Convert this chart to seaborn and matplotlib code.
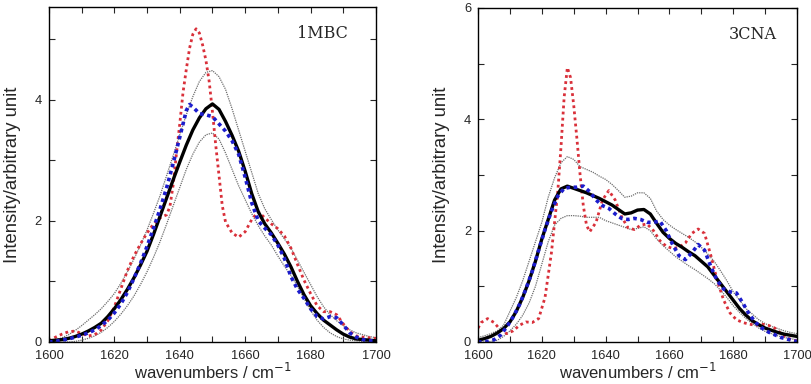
import numpy as np
import pandas as pd
import matplotlib
matplotlib.use("Agg")
import matplotlib.pyplot as plt
import seaborn as sns
from matplotlib.ticker import MultipleLocator

# ---- 1MBC (left panel) ----
x_even = list(range(1600, 1701, 2))

mbc_mean = [0.02, 0.03, 0.04, 0.06, 0.09, 0.13, 0.18, 0.24, 0.31, 0.42,
            0.55, 0.70, 0.87, 1.06, 1.27, 1.50, 1.78, 2.08, 2.38, 2.68,
            2.97, 3.25, 3.50, 3.70, 3.85, 3.93, 3.84, 3.64, 3.41, 3.15,
            2.82, 2.45, 2.15, 1.95, 1.80, 1.63, 1.45, 1.24, 1.00, 0.78,
            0.60, 0.47, 0.36, 0.28, 0.20, 0.13, 0.08, 0.05, 0.04, 0.03, 0.02]
mbc_upper = [0.02, 0.03, 0.07, 0.12, 0.19, 0.27, 0.36, 0.45, 0.55, 0.67,
             0.80, 0.97, 1.16, 1.37, 1.60, 1.85, 2.13, 2.42, 2.75, 3.08,
             3.42, 3.75, 4.05, 4.30, 4.45, 4.48, 4.38, 4.17, 3.85, 3.50,
             3.15, 2.80, 2.45, 2.20, 2.02, 1.85, 1.70, 1.55, 1.35, 1.15,
             0.95, 0.75, 0.58, 0.45, 0.35, 0.27, 0.20, 0.15, 0.12, 0.09, 0.07]
mbc_lower = [0.00, 0.00, 0.00, 0.00, 0.01, 0.03, 0.06, 0.10, 0.16, 0.24,
             0.34, 0.46, 0.60, 0.76, 0.95, 1.16, 1.40, 1.66, 1.95, 2.25,
             2.55, 2.85, 3.10, 3.30, 3.42, 3.45, 3.35, 3.12, 2.85, 2.58,
             2.35, 2.12, 1.92, 1.75, 1.60, 1.42, 1.25, 1.10, 0.92, 0.72,
             0.52, 0.36, 0.24, 0.15, 0.09, 0.05, 0.03, 0.02, 0.01, 0.00, 0.00]

mbc_blue_x = list(range(1600, 1643, 2)) + [1643] + list(range(1644, 1701, 2))
mbc_blue = [0.00, 0.01, 0.03, 0.05, 0.08, 0.11, 0.15, 0.20, 0.27, 0.36,
            0.48, 0.63, 0.82, 1.05, 1.30, 1.58, 1.88, 2.20, 2.55, 2.95,
            3.38, 3.82, 3.92,
            3.88, 3.77, 3.75, 3.72, 3.60, 3.48, 3.32, 3.10,
            2.72, 2.30, 2.00, 1.88, 1.77, 1.60, 1.38, 1.08, 0.87, 0.72,
            0.55, 0.42, 0.38, 0.42, 0.40, 0.28, 0.15, 0.08, 0.04, 0.02, 0.02]

mbc_red_x = list(range(1600, 1637, 2)) + list(range(1637, 1655)) + list(range(1656, 1701, 2))
mbc_red = [0.02, 0.08, 0.13, 0.17, 0.18, 0.14, 0.10, 0.12, 0.20, 0.35,
           0.58, 0.88, 1.18, 1.42, 1.62, 1.80, 1.95, 2.05, 2.10,
           2.24, 2.60, 3.12, 3.60, 4.12, 4.50, 4.85, 5.08, 5.17, 5.10,
           4.90, 4.65, 4.30, 3.80, 3.25, 2.75, 2.25, 1.98,
           1.80, 1.73, 1.82, 2.02, 2.15, 2.05, 1.95, 1.87, 1.75, 1.55,
           1.28, 1.02, 0.80, 0.60, 0.50, 0.50, 0.45, 0.30, 0.17, 0.10,
           0.08, 0.07, 0.06]

# ---- 3CNA (right panel) ----
cna_mean = [0.03, 0.06, 0.10, 0.16, 0.24, 0.36, 0.55, 0.80, 1.10, 1.45,
            1.85, 2.20, 2.55, 2.75, 2.80, 2.76, 2.72, 2.68, 2.63, 2.58,
            2.52, 2.46, 2.38, 2.30, 2.32, 2.37, 2.38, 2.30, 2.13, 1.97,
            1.86, 1.77, 1.70, 1.62, 1.55, 1.45, 1.35, 1.20, 1.05, 0.90,
            0.75, 0.60, 0.48, 0.38, 0.31, 0.25, 0.21, 0.17, 0.14, 0.12, 0.10]
cna_upper = [0.08, 0.11, 0.15, 0.20, 0.30, 0.55, 0.80, 1.10, 1.45, 1.80,
             2.15, 2.60, 2.95, 3.22, 3.33, 3.28, 3.15, 3.10, 3.05, 2.98,
             2.92, 2.83, 2.72, 2.60, 2.62, 2.68, 2.68, 2.58, 2.35, 2.20,
             2.10, 2.02, 1.95, 1.88, 1.80, 1.70, 1.58, 1.45, 1.28, 1.10,
             0.90, 0.75, 0.60, 0.50, 0.40, 0.33, 0.28, 0.24, 0.20, 0.17, 0.15]
cna_lower = [0.00, 0.00, 0.01, 0.03, 0.10, 0.20, 0.32, 0.48, 0.70, 1.00,
             1.40, 1.80, 2.10, 2.22, 2.27, 2.27, 2.26, 2.24, 2.24, 2.24,
             2.18, 2.14, 2.10, 2.06, 2.02, 2.04, 2.07, 2.00, 1.85, 1.73,
             1.63, 1.53, 1.45, 1.37, 1.30, 1.22, 1.14, 1.05, 0.93, 0.80,
             0.65, 0.53, 0.42, 0.33, 0.25, 0.19, 0.15, 0.11, 0.08, 0.06, 0.04]

cna_blue_x = [1600] + list(range(1601, 1700, 2)) + [1700]
cna_blue = [0.00, 0.00, 0.01, 0.04, 0.12, 0.27, 0.45, 0.67, 0.95, 1.27,
            1.65, 2.02, 2.35, 2.62, 2.76, 2.78, 2.78, 2.80, 2.70, 2.55,
            2.45, 2.40, 2.30, 2.22, 2.20, 2.22, 2.20, 2.15, 2.15, 2.17,
            2.00, 1.75, 1.55, 1.48, 1.60, 1.75, 1.65, 1.35, 1.10, 0.95,
            0.90, 0.88, 0.70, 0.50, 0.35, 0.25, 0.18, 0.13, 0.08, 0.05,
            0.02, 0.01]

cna_red_x = [1600] + list(range(1601, 1625, 2)) + list(range(1625, 1636)) + list(range(1637, 1700, 2)) + [1700]
cna_red = [0.25,
           0.35, 0.42, 0.35, 0.22, 0.15, 0.20, 0.30, 0.36, 0.35, 0.42, 0.80, 1.60,
           2.70, 3.50, 4.40, 4.93, 4.75, 4.25, 3.65, 3.00, 2.45, 2.10, 1.98,
           2.15, 2.55, 2.72, 2.55, 2.25, 2.05, 2.02, 2.10, 2.12, 2.00,
           1.82, 1.72, 1.68, 1.70, 1.78, 1.95, 2.03, 1.95, 1.55, 1.10,
           0.75, 0.52, 0.40, 0.35, 0.32, 0.30, 0.32, 0.30, 0.25, 0.15,
           0.07, 0.03,
           0.02]

sns.set_style("ticks")
plt.rcParams['font.family'] = ['Liberation Sans', 'DejaVu Sans']

fig = plt.figure(figsize=(8.12, 3.84), dpi=100)
ax1 = fig.add_axes([0.0603, 0.1094, 0.4027, 0.8724])
ax2 = fig.add_axes([0.5887, 0.1094, 0.3929, 0.8698])

panels = [
    (ax1, x_even, mbc_mean, mbc_upper, mbc_lower, mbc_red_x, mbc_red,
     mbc_blue_x, mbc_blue, '1MBC', 5.53, 0.835),
    (ax2, x_even, cna_mean, cna_upper, cna_lower, cna_red_x, cna_red,
     cna_blue_x, cna_blue, '3CNA', 6.0, 0.86),
]

for ax, xs, mean, up, lo, rx, red, bx, blue, name, ytop, tx in panels:
    for band in (up, lo):
        sns.lineplot(x=xs, y=band, ax=ax, color='#6e6e6e', lw=0.9,
                     linestyle=(0, (1, 0.8)), estimator=None, sort=False)
    sns.lineplot(x=rx, y=red, ax=ax, color='#d9303a', lw=2.0,
                 linestyle=(0, (1, 1.2)), estimator=None, sort=False)
    sns.lineplot(x=xs, y=mean, ax=ax, color='black', lw=2.4,
                 estimator=None, sort=False)
    sns.lineplot(x=bx, y=blue, ax=ax, color='#1c1ccc', lw=2.6,
                 linestyle=(0, (1, 1.0)), estimator=None, sort=False)

    ax.set_xlim(1600, 1700)
    ax.set_ylim(0, ytop)
    ax.xaxis.set_major_locator(MultipleLocator(20))
    ax.xaxis.set_minor_locator(MultipleLocator(10))
    ax.yaxis.set_major_locator(MultipleLocator(2))
    ax.yaxis.set_minor_locator(MultipleLocator(1))
    ax.tick_params(which='both', direction='in', top=True, right=True,
                   length=4, width=0.8, labelsize=9.3)
    ax.tick_params(axis='x', pad=6)
    ax.tick_params(axis='y', pad=5)
    for s in ax.spines.values():
        s.set_linewidth(1.0)
        s.set_color('black')
    ax.set_xlabel('wavenumbers / cm$^{-1}$', fontsize=12, labelpad=0)
    ax.set_ylabel('Intensity/arbitrary unit', fontsize=13.3, labelpad=10)
    ax.text(tx, 0.92, name, transform=ax.transAxes,
            ha='center', va='center', fontsize=11.5, family='DejaVu Serif')

fig.savefig('out.png', dpi=100)
